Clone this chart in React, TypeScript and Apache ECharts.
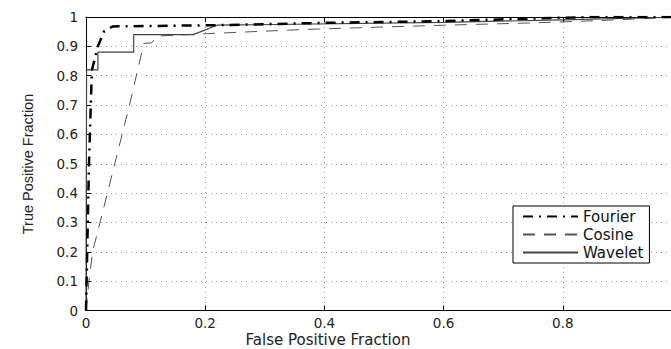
import React, { useEffect, useRef } from "react";
import * as echarts from "echarts";

const seriesNames = ["Fourier", "Cosine", "Wavelet"];

const fourierData: [number, number][] = [
  [0, 0], [0.002, 0.2], [0.005, 0.5], [0.008, 0.7], [0.01, 0.82], [0.02, 0.9],
  [0.03, 0.95], [0.045, 0.968], [0.22, 0.972], [0.4, 0.98], [0.6, 0.986],
  [0.75, 0.995], [0.85, 1], [1, 1],
];

const cosineData: [number, number][] = [
  [0, 0], [0.005, 0.1], [0.011, 0.2], [0.036, 0.4], [0.073, 0.7], [0.097, 0.91],
  [0.11, 0.912], [0.12, 0.935], [0.2, 0.943], [0.36, 0.957], [0.5, 0.966],
  [0.6, 0.972], [0.75, 0.98], [0.85, 0.987], [1, 1],
];

const waveletData: [number, number][] = [
  [0, 0], [0.001, 0.82], [0.02, 0.82], [0.02, 0.88], [0.08, 0.88], [0.08, 0.94],
  [0.18, 0.94], [0.22, 0.972], [0.6, 0.982], [0.8, 0.99], [1, 1],
];

const xTickLabels = ["0", "0.2", "0.4", "0.6", "0.8", ""];
const xTitle = "False Positive Fraction";
const yTitle = "True Positive Fraction";

export default function App() {
  const ref = useRef<HTMLDivElement>(null);
  useEffect(() => {
    if (!ref.current) return;
    const chart = echarts.init(ref.current, undefined, { renderer: "svg" });
    const labelFont = {
      fontFamily: "DejaVu Sans",
      fontSize: 13.5,
      color: "#222",
    };
    const split = {
      show: true,
      lineStyle: { color: "#999", width: 1, type: [1, 4] as any },
    };
    chart.setOption({
      animation: false,
      backgroundColor: "#fff",
      grid: { left: 86, top: 17, bottom: 38.5, right: 18, containLabel: false },
      xAxis: [
        {
          type: "value",
          min: 0,
          max: 1,
          interval: 0.2,
          axisLine: { show: true, lineStyle: { color: "#000", width: 1 } },
          axisTick: { show: true, inside: true, length: 5, lineStyle: { color: "#000" } },
          axisLabel: {
            ...labelFont,
            margin: 5,
            formatter: (v: number) => xTickLabels[Math.round(v / 0.2)] ?? "",
          },
          splitLine: split,
        },
        {
          type: "value",
          position: "top",
          min: 0,
          max: 1,
          interval: 0.2,
          axisLine: { show: true, onZero: false, lineStyle: { color: "#000", width: 1 } },
          axisTick: { show: true, inside: true, length: 5, lineStyle: { color: "#000" } },
          axisLabel: { show: false },
          splitLine: { show: false },
        },
      ],
      yAxis: {
        type: "value",
        min: 0,
        max: 1,
        interval: 0.1,
        axisLine: { show: true, lineStyle: { color: "#000", width: 1 } },
        axisTick: { show: true, inside: true, length: 5, lineStyle: { color: "#000" } },
        axisLabel: { ...labelFont, margin: 8 },
        splitLine: split,
      },
      legend: {
        orient: "vertical",
        left: 513,
        top: 206,
        padding: [3, 6, 3, 9],
        itemGap: 3,
        itemWidth: 55,
        itemHeight: 14,
        backgroundColor: "#fff",
        borderColor: "#000",
        borderWidth: 1,
        borderRadius: 0,
        itemStyle: { opacity: 0 },
        textStyle: { fontFamily: "DejaVu Sans", fontSize: 15, color: "#111" },
        data: seriesNames,
      },
      graphic: [
        {
          type: "text",
          x: 328,
          y: 340,
          style: {
            text: xTitle,
            fontFamily: "DejaVu Sans",
            fontSize: 15,
            fill: "#222",
            textAlign: "center",
            textVerticalAlign: "middle",
          },
        },
        {
          type: "text",
          x: 28,
          y: 164,
          rotation: Math.PI / 2,
          style: {
            text: yTitle,
            fontFamily: "Liberation Sans",
            fontSize: 14.5,
            fill: "#222",
            textAlign: "center",
            textVerticalAlign: "middle",
          },
        },
      ],
      series: [
        {
          name: seriesNames[0],
          type: "line",
          data: fourierData,
          symbol: "none",
          z: 4,
          itemStyle: { color: "#000" },
          lineStyle: { color: "#000", width: 2.5, type: [10, 6, 2, 6] as any },
        },
        {
          name: seriesNames[1],
          type: "line",
          data: cosineData,
          symbol: "none",
          z: 3,
          itemStyle: { color: "#555" },
          lineStyle: { color: "#555", width: 1, type: [12, 9] as any },
        },
        {
          name: seriesNames[2],
          type: "line",
          data: waveletData,
          symbol: "none",
          z: 3,
          itemStyle: { color: "#444" },
          lineStyle: { color: "#444", width: 1.2, type: "solid" },
        },
      ],
    });
    return () => chart.dispose();
  }, []);
  return (
    <div style={{ position: "absolute", left: 0, top: 0, width: 671, height: 349, overflow: "hidden" }}>
      <div ref={ref} style={{ width: 700, height: 349 }} />
    </div>
  );
}
